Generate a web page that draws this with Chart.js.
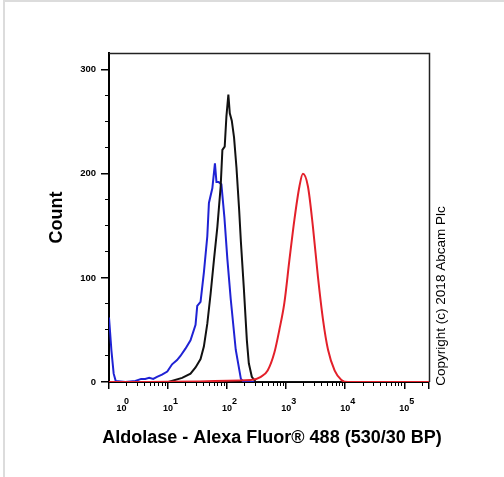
<!DOCTYPE html>
<html>
<head>
<meta charset="utf-8">
<script src="https://cdn.jsdelivr.net/npm/chart.js@4.4.1/dist/chart.umd.min.js"></script>
<style>
  html, body { margin: 0; padding: 0; background: #fff; }
  #wrap { position: relative; width: 504px; height: 477px; }
  #edgeLeft { position: absolute; left: 3px; top: 0; width: 2px; height: 477px; background: #dcdcdc; }
  #edgeTop { position: absolute; left: 3px; top: 0; width: 501px; height: 2px; background: #dcdcdc; }
</style>
</head>
<body>
<div id="wrap">
  <canvas id="myChart" width="504" height="477"></canvas>
  <div id="edgeLeft"></div>
  <div id="edgeTop"></div>
</div>
<script>
// histogram values (fluorescence, count)
const blueX = [1, 1.1, 1.2, 1.3, 1.9, 2.8, 3.5, 4.1, 4.8, 5.6, 6.5, 7.9, 9.7, 11.7, 14.2, 16.2, 19.7, 24, 29.2, 31.2, 35.5, 40.4, 46.2, 49.2, 56.2, 62.2, 66, 72, 80, 90, 101, 115, 140, 171, 192, 262144];
const blueY = [62, 30, 8, 1, 0, 1, 3, 3, 4, 3, 5, 7, 10, 17, 21, 25, 32, 40, 55, 73, 77, 105, 140, 172, 186, 210, 192, 192, 190, 158, 118, 80, 31, 3, 0, 0];

const blackX = [1, 10.1, 17.3, 24, 29.2, 35.5, 40.4, 46.2, 52.6, 59.8, 68.4, 77.8, 83.2, 91, 97.3, 105, 111, 120, 131, 144, 160, 171, 192, 216, 233, 262, 307, 262144];
const blackY = [0, 0, 4, 8, 14, 22, 34, 56, 85, 117, 149, 188, 223, 226, 255, 276, 258, 251, 235, 206, 165, 135, 90, 40, 18, 5, 0, 0];

const redX = [1, 252, 374, 486, 630, 766, 932, 1134, 1379, 1679, 1919, 2334, 2839, 3453, 4203, 5114, 6627, 8610, 11200, 262144];
const redY = [0, 2, 5, 11, 28, 50, 76, 117, 156, 188, 200, 188, 149, 101, 60, 31, 11, 2, 0, 0];

const xMajorTicks = [1, 10, 100, 1000, 10000, 100000, 262144];
const yMajorTicks = [0, 100, 200, 300];
const yMinorTicks = [25, 50, 75, 125, 150, 175, 225, 250, 275];

const xMinorTicks = [];
for (let k = 0; k <= 5; k++) {
    for (let m = 2; m <= 9; m++) {
        if (m * Math.pow(10, k) <= 262144) xMinorTicks.push(m * Math.pow(10, k));
    }
}

function toPoints(xs, ys) {
    return xs.map((x, i) => ({x: x, y: ys[i]}));
}

Chart.defaults.font.family = '"Liberation Sans", Arial, sans-serif';
Chart.defaults.color = '#000';

// x title (wider than the axis, so not a scale title) and copyright note
const textPlugin = {
    id: 'texts',
    afterDraw(chart) {
        const ctx = chart.ctx;
        ctx.save();
        ctx.fillStyle = '#000';
        ctx.textAlign = 'center';
        ctx.textBaseline = 'middle';
        ctx.font = 'bold 18px "Liberation Sans", Arial, sans-serif';
        ctx.fillText('Aldolase - Alexa Fluor® 488 (530/30 BP)', 272, 438);

        ctx.translate(441, 296);
        ctx.rotate(-Math.PI / 2);
        ctx.font = '13.5px "Liberation Sans", Arial, sans-serif';
        ctx.fillText('Copyright (c) 2018 Abcam Plc', 0, 0);
        ctx.restore();
    }
};

// thin frame on top and right of the plot
const framePlugin = {
    id: 'frame',
    beforeDatasetsDraw(chart) {
        const {ctx, chartArea} = chart;
        ctx.save();
        ctx.strokeStyle = '#222';
        ctx.lineWidth = 1.5;
        ctx.beginPath();
        ctx.moveTo(chartArea.left, chartArea.top + 0.5);
        ctx.lineTo(chartArea.right + 0.5, chartArea.top + 0.5);
        ctx.lineTo(chartArea.right + 0.5, chartArea.bottom);
        ctx.stroke();
        ctx.restore();
    }
};

const data = {
    datasets: [{
        label: 'red',
        data: toPoints(redX, redY),
        borderColor: '#e3202a',
        cubicInterpolationMode: 'monotone'
    }, {
        label: 'black',
        data: toPoints(blackX, blackY),
        borderColor: '#111111'
    }, {
        label: 'blue',
        data: toPoints(blueX, blueY),
        borderColor: '#1f22d4'
    }]
};

const config = {
    type: 'line',
    data: data,
    options: {
        responsive: false,
        animation: false,
        layout: {
            padding: {top: 53, right: 75, bottom: 0, left: 0}
        },
        elements: {
            point: {radius: 0},
            line: {borderWidth: 2, tension: 0}
        },
        plugins: {
            legend: {display: false},
            tooltip: {enabled: false}
        },
        scales: {
            x: {
                type: 'logarithmic',
                position: 'bottom',
                weight: 1,
                min: 1,
                max: 262144,
                afterBuildTicks: s => { s.ticks = xMajorTicks.map(v => ({value: v})); },
                afterFit: s => { s.height = 95; },
                ticks: {
                    autoSkip: false,
                    maxRotation: 0,
                    align: 'inner',
                    padding: 9,
                    font: {size: 9, weight: 'bold', lineHeight: 0.8},
                    callback: function (v, i) {
                        if (v > 100000) return '';
                        const e = Math.round(Math.log10(v));
                        if (i === 0) return ['      ' + e, '   10'];
                        return ['      ' + e, '10'];
                    }
                },
                grid: {drawOnChartArea: false, tickLength: 7, color: '#000', lineWidth: 1.5},
                border: {display: true, color: '#000', width: 2}
            },
            xMinor: {
                type: 'logarithmic',
                position: 'bottom',
                weight: 0,
                min: 1,
                max: 262144,
                afterBuildTicks: s => { s.ticks = xMinorTicks.map(v => ({value: v})); },
                afterFit: s => { s.height = 0; },
                ticks: {display: false, autoSkip: false, maxRotation: 0},
                grid: {drawOnChartArea: false, tickLength: 4, color: '#000', lineWidth: 1},
                border: {display: false}
            },
            y: {
                type: 'linear',
                position: 'left',
                weight: 1,
                min: 0,
                max: 316,
                afterBuildTicks: s => { s.ticks = yMajorTicks.map(v => ({value: v})); },
                afterFit: s => { s.width = 109; },
                ticks: {
                    padding: 5,
                    font: {size: 9.5, weight: 'bold'}
                },
                grid: {drawOnChartArea: false, tickLength: 8, color: '#000', lineWidth: 1.5},
                border: {display: true, color: '#000', width: 2},
                title: {
                    display: true,
                    text: 'Count',
                    font: {size: 18, weight: 'bold'},
                    padding: {top: 46, bottom: 0}
                }
            },
            yMinor: {
                type: 'linear',
                position: 'left',
                weight: 0,
                min: 0,
                max: 316,
                afterBuildTicks: s => { s.ticks = yMinorTicks.map(v => ({value: v})); },
                afterFit: s => { s.width = 0; },
                ticks: {display: false},
                grid: {drawOnChartArea: false, tickLength: 4, color: '#000', lineWidth: 1},
                border: {display: false}
            }
        }
    },
    plugins: [textPlugin, framePlugin]
};

const context = document.getElementById('myChart').getContext('2d');
const myChart = new Chart(context, config);
</script>
</body>
</html>
